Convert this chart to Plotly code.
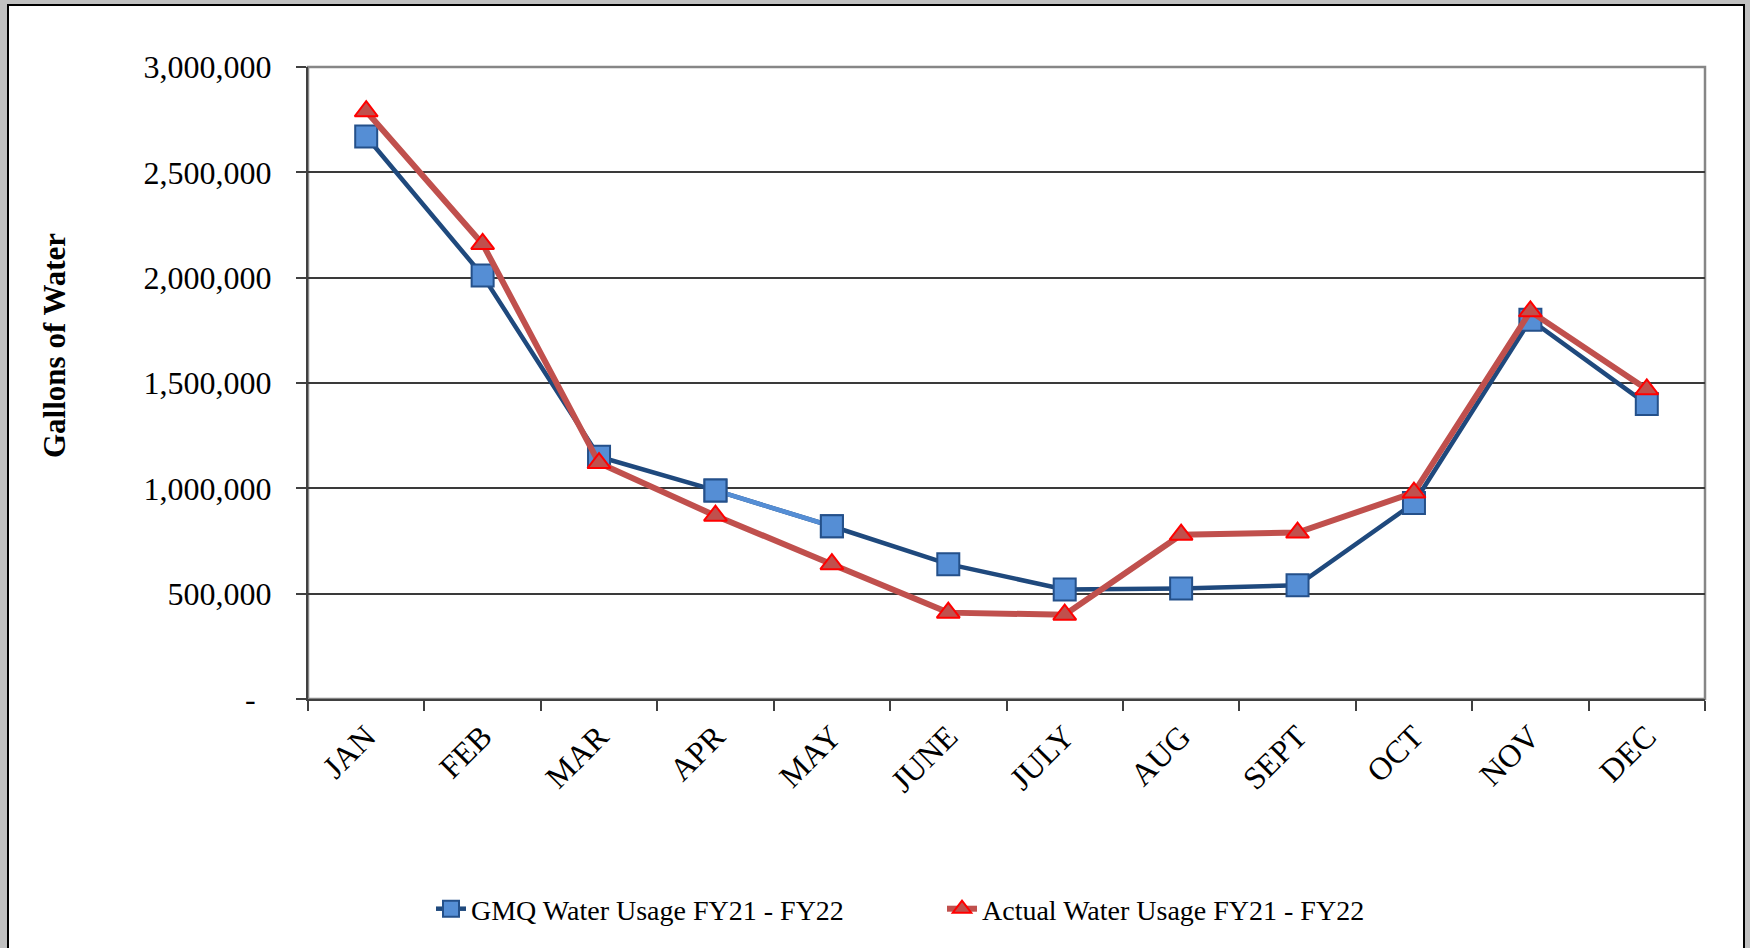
import plotly.graph_objects as go

months = ["JAN", "FEB", "MAR", "APR", "MAY", "JUNE", "JULY", "AUG", "SEPT", "OCT", "NOV", "DEC"]
gmq = [2670000, 2010000, 1150000, 990000, 820000, 640000, 520000, 525000, 540000, 930000, 1800000, 1400000]
actual = [2790000, 2160000, 1120000, 870000, 640000, 410000, 400000, 780000, 790000, 980000, 1840000, 1470000]
y_tickvals = [0, 500000, 1000000, 1500000, 2000000, 2500000, 3000000]
y_ticktext = ["-\u00a0\u00a0", "500,000", "1,000,000", "1,500,000", "2,000,000", "2,500,000", "3,000,000"]

W, H = 1750, 948
L, R, T, B = 308, 45, 67, 249
pw, ph = W - L - R, H - T - B

def px(x):
    return (x - L) / pw

def py(y):
    return (H - B - y) / ph

FONT = "Liberation Serif, Times New Roman, serif"
GMQ_LINE = "#1F497D"
GMQ_FILL = "#558ED5"
ACT_LINE = "#C0504D"

fig = go.Figure()
fig.add_trace(go.Scatter(
    x=months, y=gmq, mode="lines+markers", name="GMQ Water Usage FY21 - FY22",
    line=dict(color=GMQ_LINE, width=4.5),
    marker=dict(symbol="square", size=22, color=GMQ_FILL, line=dict(color="#24508A", width=2)),
))
fig.add_trace(go.Scatter(
    x=months[3:5], y=gmq[3:5], mode="lines", showlegend=False, hoverinfo="skip",
    line=dict(color=GMQ_FILL, width=4.5),
))
fig.add_trace(go.Scatter(
    x=months[3:5], y=gmq[3:5], mode="markers", showlegend=False, hoverinfo="skip",
    marker=dict(symbol="square", size=22, color=GMQ_FILL, line=dict(color="#24508A", width=2)),
))
fig.add_trace(go.Scatter(
    x=months, y=actual, mode="lines+markers", name="Actual Water Usage FY21 - FY22",
    line=dict(color=ACT_LINE, width=6),
    marker=dict(symbol="triangle-up", size=20, color=ACT_LINE, line=dict(color="#FF0000", width=2)),
))

fig.update_layout(
    width=W, height=H,
    margin=dict(l=L, r=R, t=T, b=B, autoexpand=False),
    paper_bgcolor="#C0C0C0",
    plot_bgcolor="#F2F2F2",
    font=dict(family=FONT, color="black", size=32),
    showlegend=True,
    legend=dict(
        orientation="h", x=px(431), xanchor="left", y=py(909), yanchor="middle",
        font=dict(family=FONT, size=28, color="black"),
        bgcolor="rgba(0,0,0,0)", entrywidth=466, entrywidthmode="pixels",
        itemwidth=30,
    ),
    xaxis=dict(
        type="category", range=[-0.5, 11.5], showgrid=False, tickson="boundaries",
        ticks="outside", ticklen=10, tickwidth=2, tickcolor="#404040",
        showline=True, linecolor="#404040", linewidth=2,
        tickangle=-45, tickfont=dict(family=FONT, size=32, color="black"),
        ticklabelstandoff=4,
        automargin=False, zeroline=False,
    ),
    yaxis=dict(
        range=[0, 3000000], tickvals=y_tickvals, ticktext=y_ticktext,
        showgrid=True, gridcolor="#3A3A3A", gridwidth=1.5,
        ticks="outside", ticklen=10, tickwidth=2, tickcolor="#404040",
        showline=True, linecolor="#404040", linewidth=2,
        tickfont=dict(family=FONT, size=32, color="black"),
        ticklabelstandoff=18,
        automargin=False, zeroline=False,
    ),
    annotations=[
        dict(text="<b>Gallons of Water</b>", xref="paper", yref="paper", x=px(54), y=py(346),
             xanchor="center", yanchor="middle", textangle=-90, showarrow=False,
             font=dict(family=FONT, size=31, color="black")),
    ],
    shapes=[
        dict(type="rect", xref="paper", yref="paper", x0=px(8), x1=px(1744), y0=py(980), y1=py(5),
             line=dict(color="black", width=2), fillcolor="white", layer="below"),
        dict(type="rect", xref="paper", yref="paper", x0=0, x1=1, y0=0, y1=1,
             line=dict(color="#868686", width=2.5), fillcolor="rgba(0,0,0,0)", layer="between"),
    ],
)

fig.write_html(
    "out.html",
    config={"displayModeBar": False},
    post_script="document.body.style.margin='0';document.body.style.background='#C0C0C0';document.body.style.overflow='hidden';",
)
